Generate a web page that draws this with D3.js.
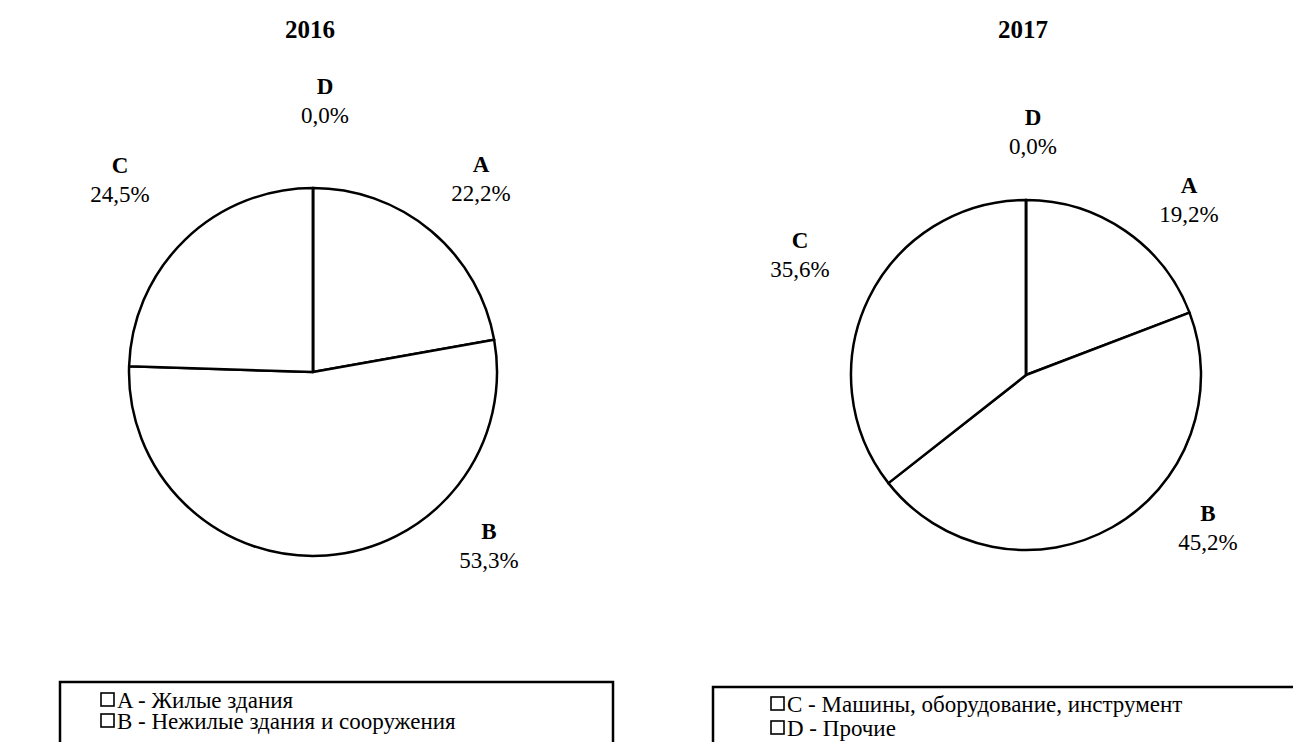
<!DOCTYPE html>
<html><head><meta charset="utf-8">
<script src="https://cdn.jsdelivr.net/npm/d3@7"></script>
<style>body{margin:0;background:#fff}svg{display:block}</style>
</head><body><svg id="c" width="1293" height="742" font-family="'Liberation Serif', 'Times New Roman', Times, serif"></svg>
<script>
const categories = ["A","B","C","D"];
const years = ["2016","2017"];
const values2016 = [22.2, 53.3, 24.5, 0.0];
const values2017 = [19.2, 45.2, 35.6, 0.0];
const legendLeft = ["A - Жилые здания","B - Нежилые здания и сооружения"];
const legendRight = ["C - Машины, оборудование, инструмент","D - Прочие"];

// layout (positions, not data): label [angle deg, distance]
const pies = [
  {cx:313, cy:372, r:184, values:values2016,
   lab:[[42.1,250.6],[135.8,252.5],[313.8,267.3],[2.6,263.8]]},
  {cx:1026, cy:375, r:175, values:values2017,
   lab:[[44.05,234.4],[131.3,242.3],[296.6,252.7],[1.7,236.6]]}
];
const svg = d3.select("#c");
const pie = d3.pie().sort(null).value(d=>d);
const fmt = v => d3.format(".1f")(v).replace(".", ",") + "%";

pies.forEach((p,i)=>{
  const g = svg.append("g").attr("transform",`translate(${p.cx},${p.cy})`);
  const arc = d3.arc().innerRadius(0).outerRadius(p.r);
  const arcs = pie(p.values);
  g.selectAll("path").data(arcs).join("path")
    .attr("d",arc).attr("fill","#fff").attr("stroke","#000").attr("stroke-width",2.5)
    .attr("stroke-linejoin","round");
  svg.append("text").attr("x",p.cx-3).attr("y",38).attr("text-anchor","middle")
    .attr("font-weight","bold").attr("font-size",25).text(years[i]);
  arcs.forEach((a,j)=>{
    const ang = p.lab[j][0]*Math.PI/180, d = p.lab[j][1];
    const x = p.cx + d*Math.sin(ang), y = p.cy - d*Math.cos(ang);
    const t = svg.append("text").attr("x",x).attr("y",y).attr("text-anchor","middle").attr("font-size",23);
    t.append("tspan").attr("x",x).attr("dy",-14).attr("font-weight","bold").text(categories[j]);
    t.append("tspan").attr("x",x).attr("dy",29).text(fmt(a.data));
  });
});

function legend(x0, x1, y0, items, tx, base, step){
  svg.append("path").attr("d",`M${x0},745 V${y0} H${x1} V745`).attr("fill","none").attr("stroke","#000").attr("stroke-width",2.5);
  items.forEach((s,k)=>{
    const by = base + k*step;
    svg.append("rect").attr("x",tx-16).attr("y",by-15).attr("width",13).attr("height",13)
      .attr("fill","#fff").attr("stroke","#000").attr("stroke-width",1.6);
    svg.append("text").attr("x",tx).attr("y",by).attr("font-size",23).text(s);
  });
}
legend(60, 613, 682, legendLeft, 117, 708, 21);
legend(713, 1300, 687, legendRight, 787, 712, 24);
</script></body></html>
